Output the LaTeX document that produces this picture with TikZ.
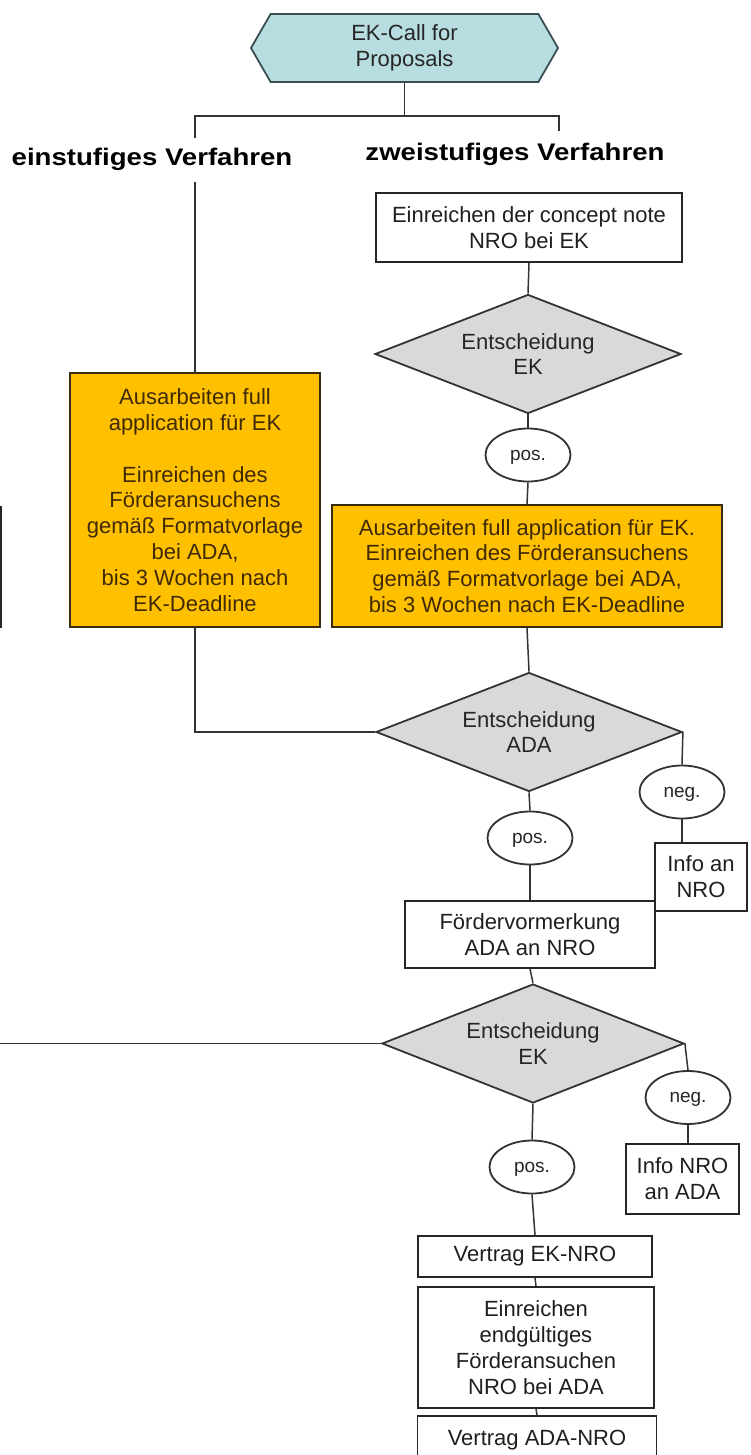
\documentclass[tikz,border=0pt]{standalone}
\usepackage{fontspec}
\setmainfont{Liberation Sans}
\newfontfamily\headfont{Liberation Sans Bold}[FakeStretch=1.15]
\usepackage{tikz}
\usetikzlibrary{shapes.geometric, shapes.symbols, positioning}

\definecolor{callblue}{HTML}{B7DDE0}
\definecolor{callline}{HTML}{3C4E55}
\definecolor{taskorange}{HTML}{FFC000}
\definecolor{taskline}{HTML}{3A2A10}
\definecolor{tasktext}{HTML}{3F2A05}
\definecolor{decgray}{HTML}{D9D9D9}
\definecolor{darkline}{HTML}{333333}

\tikzstyle{callbox} = [signal, signal to=west and east, signal pointer angle=120, minimum width=153.5pt, minimum height=34pt, inner sep=0pt, align=center, draw=callline, line width=0.9pt, fill=callblue, text=black!85, font=\fontsize{11}{12.9}\selectfont]
\tikzstyle{stepbox} = [rectangle, inner sep=0pt, align=center, draw=black!85, line width=0.9pt, fill=white, text=black!88, font=\fontsize{11}{12.9}\selectfont]
\tikzstyle{taskbox} = [rectangle, inner sep=0pt, align=center, draw=taskline, line width=0.9pt, fill=taskorange, text=tasktext, font=\fontsize{11}{12.9}\selectfont]
\tikzstyle{decision} = [diamond, minimum width=153pt, minimum height=59.5pt, aspect=2.6, inner sep=0pt, align=center, draw=darkline, line width=0.9pt, fill=decgray, text=black!85, font=\fontsize{11}{12.9}\selectfont]
\tikzstyle{answer} = [ellipse, minimum width=42.5pt, minimum height=26.5pt, inner sep=0pt, text depth=0pt, draw=darkline, line width=0.9pt, fill=white, text=black!85, font=\fontsize{9.5}{11}\selectfont]
\tikzstyle{heading} = [inner sep=0pt, font=\headfont\fontsize{12}{14}\selectfont]
\tikzstyle{connector} = [line width=0.75pt, draw=darkline]

\begin{document}
\begin{tikzpicture}[node distance=50pt]

\useasboundingbox (0pt,0pt) rectangle (375pt,-727.5pt);
\clip (0pt,0pt) rectangle (375pt,-727.5pt);

% Call
\node (call) [callbox] at (202.25pt,-24pt) {EK-Call for\\Proposals};

% Headings
\node (zwei) [heading, below of=call, yshift=-3pt, xshift=55.25pt] {zweistufiges Verfahren};
\node (ein) [heading, left of=zwei, xshift=-131.5pt, yshift=-2.5pt] {einstufiges Verfahren};

% Two-stage column
\node (concept) [stepbox, minimum width=153pt, minimum height=34.5pt, below of=call, yshift=-39.75pt, xshift=62.25pt] {Einreichen der concept note\\NRO bei EK};
\node (ekfirst) [decision, below of=concept, yshift=-13.25pt, xshift=-0.5pt] {Entscheidung\\EK};
\node (posfirst) [answer, below of=ekfirst, yshift=-0.5pt] {pos.};
\node (taskzwei) [taskbox, minimum width=195pt, minimum height=61pt, below of=posfirst, yshift=-5.5pt, xshift=-0.5pt] {Ausarbeiten full application für EK.\\Einreichen des Förderansuchens\\gemäß Formatvorlage bei ADA,\\bis 3 Wochen nach EK-Deadline};

% One-stage column
\node (taskein) [taskbox, minimum width=125pt, minimum height=127pt, left of=taskzwei, xshift=-116pt, yshift=33pt] {Ausarbeiten full\\application für EK\\[12.9pt]Einreichen des\\Förderansuchens\\gemäß Formatvorlage\\bei ADA,\\bis 3 Wochen nach\\EK-Deadline};

% ADA decision
\node (ada) [decision, below of=taskzwei, yshift=-33pt, xshift=1pt] {Entscheidung\\ADA};
\node (negada) [answer, right of=ada, xshift=26.5pt, yshift=-30pt] {neg.};
\node (infonro) [stepbox, minimum width=46pt, minimum height=34pt, below of=negada, yshift=7.5pt, xshift=9.5pt] {Info an\\NRO};
\node (posada) [answer, below of=ada, yshift=-3pt, xshift=0.5pt] {pos.};
\node (foerder) [stepbox, minimum width=125pt, minimum height=33.5pt, below of=posada, yshift=1.75pt] {Fördervormerkung\\ADA an NRO};

% EK decision
\node (eksecond) [decision, minimum width=151pt, below of=foerder, yshift=-4.5pt, xshift=1.5pt] {Entscheidung\\EK};
\node (negek) [answer, right of=eksecond, xshift=27.5pt, yshift=-27pt] {neg.};
\node (infoada) [stepbox, minimum width=56.5pt, minimum height=35pt, below of=negek, yshift=9.25pt, xshift=-2.75pt] {Info NRO\\an ADA};
\node (posek) [answer, below of=eksecond, yshift=-11.75pt, xshift=-0.5pt] {pos.};
\node (vertragek) [stepbox, minimum width=117pt, minimum height=20.5pt, below of=posek, yshift=5.25pt, xshift=1.5pt] {Vertrag EK-NRO};
\node (endantrag) [stepbox, minimum width=118pt, minimum height=60.5pt, below of=vertragek, yshift=4.5pt, xshift=0.5pt] {Einreichen\\endgültiges\\Förderansuchen\\NRO bei ADA};
\node (vertragada) [stepbox, minimum width=119.5pt, minimum height=24pt, below of=endantrag, yshift=3.75pt, xshift=0.5pt] {Vertrag ADA-NRO};

% Parts cut off at the left edge
\node (cutbox) [stepbox, minimum width=80pt, minimum height=60pt] at (-39.4pt,-283.5pt) {};
\coordinate (offleft) at (-5pt,-521.75pt);

% Branch points
\coordinate (split) at ([yshift=-16.5pt]call.south);
\coordinate (leftend) at (taskein.north |- split);
\coordinate (rightend) at (call.east |- split);
\coordinate (leftstub) at ([yshift=-11pt]leftend);
\coordinate (rightstub) at ([yshift=-7.5pt]rightend);
\coordinate (leftresume) at ([yshift=95pt]taskein.north);

% Connectors
\draw [connector] (call.south) -- (split);
\draw [connector] (leftstub) -- (leftend) -- (rightend) -- (rightstub);
\draw [connector] (leftresume) -- (taskein.north);
\draw [connector] (concept.south) -- (ekfirst.north);
\draw [connector] (ekfirst.south) -- (posfirst.north);
\draw [connector] (posfirst.south) -- (taskzwei.north);
\draw [connector] (taskzwei.south) -- (ada.north);
\draw [connector] (taskein.south) |- (ada.west);
\draw [connector] (ada.east) -- (negada.north);
\draw [connector] (negada.south) -- (negada.south |- infonro.north);
\draw [connector] (ada.south) -- (posada.north);
\draw [connector] (posada.south) -- (foerder.north);
\draw [connector] (foerder.south) -- (eksecond.north);
\draw [connector] (offleft) -- (eksecond.west);
\draw [connector] (eksecond.east) -- (negek.north);
\draw [connector] (negek.south) -- (negek.south |- infoada.north);
\draw [connector] (eksecond.south) -- (posek.north);
\draw [connector] (posek.south) -- (vertragek.north);
\draw [connector] (vertragek.south) -- (endantrag.north);
\draw [connector] (endantrag.south) -- (vertragada.north);

\end{tikzpicture}
\end{document}
